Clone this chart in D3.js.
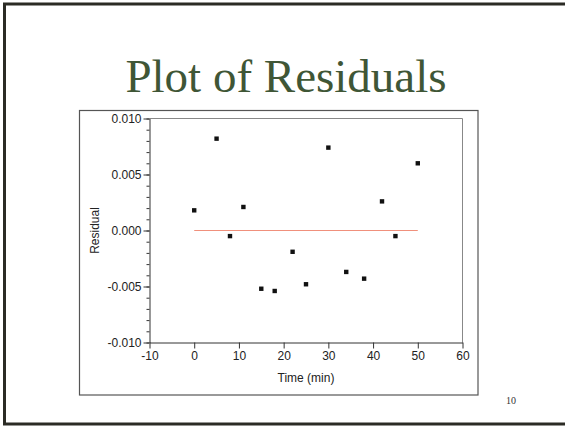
<!DOCTYPE html>
<html>
<head>
<meta charset="utf-8">
<script src="https://cdn.jsdelivr.net/npm/d3@7"></script>
<style>
  body{margin:0;background:#fff;}
  svg{display:block;}
</style>
</head>
<body>
<svg id="chart" width="565" height="426"></svg>
<script>
// data
var times=[0,5,8,11,15,18,22,25,30,34,38,42,45,50];
var residuals=[0.0018,0.0082,-0.0005,0.0021,-0.0052,-0.0054,-0.0019,-0.0048,0.0074,-0.0037,-0.0043,0.0026,-0.0005,0.0060];
var xTicks=[-10,0,10,20,30,40,50,60];
var yTicks=[-0.010,-0.005,0.000,0.005,0.010];
var fitLine=[0,50];   //zero line runs over the range of the data

var svg=d3.select("#chart");

// slide border
svg.append("rect")
  .attr("x",4.5).attr("y",4).attr("width",620).attr("height",420)
  .attr("fill","none").attr("stroke","#2b2b25").attr("stroke-width",3);

// title
svg.append("text")
  .attr("x",286).attr("y",91.5)
  .attr("text-anchor","middle")
  .attr("font-family","'Liberation Serif','Times New Roman',serif")
  .attr("font-size",47)
  .attr("fill","#3f5636")
  .text("Plot of Residuals");

// page number
svg.append("text")
  .attr("x",511).attr("y",404)
  .attr("text-anchor","middle")
  .attr("font-family","'Liberation Serif',serif")
  .attr("font-size",10)
  .attr("fill","#333")
  .text("10");

// graph box
svg.append("rect")
  .attr("x",79.5).attr("y",110.5).attr("width",398.5).attr("height",284.5)
  .attr("fill","#fff").attr("stroke","#555").attr("stroke-width",1.2);

var plotL=149.5, plotR=462.5, plotT=118.5, plotB=342.5;

var x=d3.scaleLinear().domain([-10,60]).range([plotL,plotR]);
var y=d3.scaleLinear().domain([-0.01,0.01]).range([plotB,plotT]);

function fmt(d){
  return d3.format(".3f")(d).replace("\u2212","-");
}

// frame top and right
svg.append("path")
  .attr("d","M"+plotL+","+plotT+"H"+plotR+"V"+plotB)
  .attr("fill","none").attr("stroke","#888").attr("stroke-width",1);

// y minor ticks
var minorY=d3.range(-10,11).map(function(v){return v/1000;});
svg.append("g")
  .attr("transform","translate("+plotL+",0)")
  .call(d3.axisLeft(y).tickValues(minorY).tickSize(3).tickFormat(""))
  .call(function(g){g.select(".domain").remove();g.selectAll("line").attr("stroke","#333");});

// y axis
var yAxis=svg.append("g")
  .attr("transform","translate("+plotL+",0)")
  .call(d3.axisLeft(y).tickValues(yTicks).tickSize(6).tickSizeOuter(0).tickPadding(2).tickFormat(fmt));

// x axis
var xAxis=svg.append("g")
  .attr("transform","translate(0,"+plotB+")")
  .call(d3.axisBottom(x).tickValues(xTicks).tickSize(6).tickSizeOuter(0).tickPadding(3).tickFormat(d3.format("d")));

[yAxis,xAxis].forEach(function(g){
  g.selectAll("text")
    .attr("font-family","'Liberation Sans',Arial,sans-serif")
    .attr("font-size",12)
    .attr("fill","#222");
  g.selectAll("line").attr("stroke","#333");
  g.select(".domain").attr("stroke","#333");
});
xAxis.selectAll("text").text(function(d){return String(d).replace("\u2212","-");});

// axis titles
svg.append("text")
  .attr("x",(plotL+plotR)/2).attr("y",382)
  .attr("text-anchor","middle")
  .attr("font-family","'Liberation Sans',Arial,sans-serif")
  .attr("font-size",12)
  .attr("fill","#222")
  .text("Time (min)");

svg.append("text")
  .attr("transform","translate(99,"+((plotT+plotB)/2)+") rotate(-90)")
  .attr("text-anchor","middle")
  .attr("font-family","'Liberation Sans',Arial,sans-serif")
  .attr("font-size",12)
  .attr("fill","#222")
  .text("Residual");

// zero line
svg.append("line")
  .attr("x1",x(fitLine[0])).attr("x2",x(fitLine[1]))
  .attr("y1",y(0)).attr("y2",y(0))
  .attr("stroke","#f0907c").attr("stroke-width",1.2);

// points
var pts=times.map(function(t,i){return {t:t,r:residuals[i]};});
svg.append("g")
  .selectAll("rect")
  .data(pts)
  .enter().append("rect")
  .attr("x",function(d){return x(d.t)-2.2;})
  .attr("y",function(d){return y(d.r)-2.2;})
  .attr("width",4.4).attr("height",4.4)
  .attr("fill","#111");
</script>
</body>
</html>
